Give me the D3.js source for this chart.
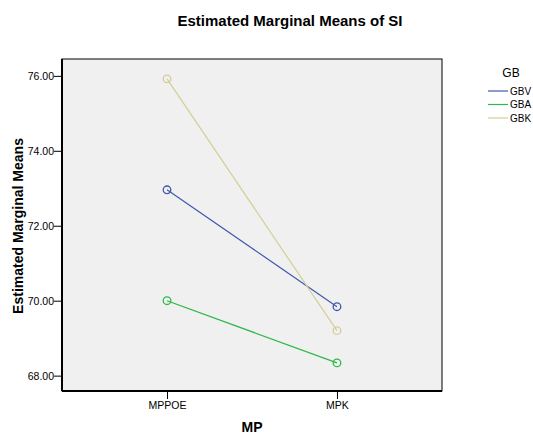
<!DOCTYPE html>
<html>
<head>
<meta charset="utf-8">
<script src="https://cdn.jsdelivr.net/npm/d3@7"></script>
<style>
  body { margin: 0; background: #fff; }
  svg { font-family: Arial, "Liberation Sans", sans-serif; }
</style>
</head>
<body>
<svg id="chart"></svg>
<script>
// chart data
const categories = ['MPPOE', 'MPK'];
const groups = ['GBV', 'GBA', 'GBK'];
const gbvValues = [72.96, 69.84];
const gbaValues = [70.0, 68.34];
const gbkValues = [75.92, 69.2];
const yTicks = [68, 70, 72, 74, 76];

const series = [
    { name: 'GBV', values: gbvValues },
    { name: 'GBA', values: gbaValues },
    { name: 'GBK', values: gbkValues }
];

const width = 533;
const height = 436;
const plot = { left: 62, right: 442, top: 59, bottom: 391 };

const svg = d3.select('#chart')
    .attr('width', width)
    .attr('height', height);

const x = d3.scalePoint()
    .domain(categories)
    .range([plot.left, plot.right])
    .padding(0.618);

const y = d3.scaleLinear()
    .domain([67.59, 76.45])
    .range([plot.bottom, plot.top]);

const color = d3.scaleOrdinal()
    .domain(groups)
    .range(['#3e58ac', '#2eb848', '#d3ce97']);

// plot background
svg.append('rect')
    .attr('x', plot.left)
    .attr('y', plot.top)
    .attr('width', plot.right - plot.left)
    .attr('height', plot.bottom - plot.top)
    .attr('fill', '#f0f0f0')
    .attr('stroke', '#000')
    .attr('stroke-width', 1);

// axes
const yAxis = svg.append('g')
    .attr('transform', `translate(${plot.left},0)`)
    .call(d3.axisLeft(y).tickValues(yTicks).tickFormat(d3.format('.2f')).tickSize(8).tickSizeOuter(0));

const xAxis = svg.append('g')
    .attr('transform', `translate(0,${plot.bottom})`)
    .call(d3.axisBottom(x).tickSize(8).tickSizeOuter(0));

[yAxis, xAxis].forEach(a => {
    a.select('.domain').remove();
    a.selectAll('line').attr('stroke', '#000');
    a.selectAll('text')
        .attr('fill', '#000')
        .attr('font-size', 10.5)
        .attr('font-family', 'Arial, "Liberation Sans", sans-serif');
});
yAxis.selectAll('text').attr('x', -8);
xAxis.selectAll('text').attr('y', 11);

// axis lines drawn heavier like the reference
svg.append('line')
    .attr('x1', plot.left).attr('x2', plot.left)
    .attr('y1', plot.top).attr('y2', plot.bottom)
    .attr('stroke', '#000').attr('stroke-width', 2);
svg.append('line')
    .attr('x1', plot.left).attr('x2', plot.right)
    .attr('y1', plot.bottom).attr('y2', plot.bottom)
    .attr('stroke', '#000').attr('stroke-width', 2);

// lines and markers
const line = d3.line()
    .x((d, i) => x(categories[i]))
    .y(d => y(d));

const g = svg.append('g');

series.forEach(s => {
    g.append('path')
        .datum(s.values)
        .attr('fill', 'none')
        .attr('stroke', color(s.name))
        .attr('stroke-width', 1.2)
        .attr('d', line);

    g.selectAll(null)
        .data(s.values)
        .join('circle')
        .attr('cx', (d, i) => x(categories[i]))
        .attr('cy', d => y(d))
        .attr('r', 3.8)
        .attr('fill', 'none')
        .attr('stroke', color(s.name))
        .attr('stroke-width', 1.3);
});

// title
svg.append('text')
    .attr('x', 290)
    .attr('y', 26)
    .attr('text-anchor', 'middle')
    .attr('font-size', 15)
    .attr('font-weight', 'bold')
    .text('Estimated Marginal Means of SI');

// axis titles
svg.append('text')
    .attr('transform', `translate(23,${(plot.top + plot.bottom) / 2 + 1}) rotate(-90)`)
    .attr('text-anchor', 'middle')
    .attr('font-size', 14)
    .attr('font-weight', 'bold')
    .text('Estimated Marginal Means');

svg.append('text')
    .attr('x', 252)
    .attr('y', 432)
    .attr('text-anchor', 'middle')
    .attr('font-size', 14)
    .attr('font-weight', 'bold')
    .text('MP');

// legend
const legend = svg.append('g');

legend.append('text')
    .attr('x', 511)
    .attr('y', 77)
    .attr('text-anchor', 'middle')
    .attr('font-size', 12)
    .text('GB');

const item = legend.selectAll('g.item')
    .data(groups)
    .join('g')
    .attr('class', 'item')
    .attr('transform', (d, i) => `translate(488,${91 + i * 13.5})`);

item.append('line')
    .attr('x1', 0).attr('x2', 20)
    .attr('stroke', d => color(d))
    .attr('stroke-width', 1.2);

item.append('text')
    .attr('x', 22)
    .attr('y', 3.5)
    .attr('font-size', 10)
    .text(d => d);
</script>
</body>
</html>
